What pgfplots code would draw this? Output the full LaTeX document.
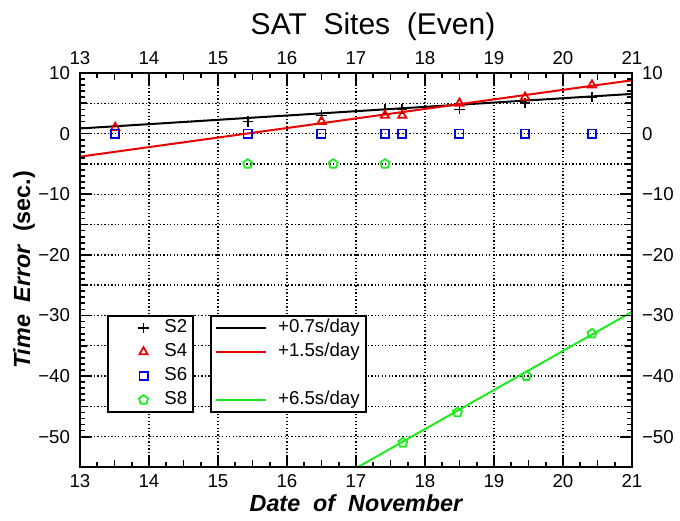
\documentclass[border=0pt]{standalone}
\usepackage{fontspec}
\setmainfont{Liberation Sans}
\usepackage{pgfplots}
\pgfplotsset{compat=1.18}
\usetikzlibrary{plotmarks}
\definecolor{cred}{RGB}{235,0,0}
\definecolor{cgreen}{RGB}{30,235,30}
\definecolor{cblue}{RGB}{0,0,220}
\pgfplotsset{base/.style={
  width=414pt, height=295.5pt, scale only axis,
  at={(0pt,0pt)}, anchor=south west,
  xmin=13, xmax=21, ymin=-55, ymax=10,
  xtick={13,14,...,21}, xticklabels={13,14,15,16,17,18,19,20,21},
  ytick={-50,-40,...,10},
  yticklabels={−50,−40,−30,−20,−10,0,10},
  minor x tick num=3, minor y tick num=9,
  extra x ticks={13.5,14.5,...,20.5}, extra x tick labels={},
  extra y ticks={-45,-35,-25,-15,-5,5}, extra y tick labels={},
  tick align=inside,
  major tick length=9pt, minor tick length=3.5pt,
  every tick/.style={line width=1.3pt, black},
  axis line style={line width=2.2pt},
  tick label style={font=\fontsize{14}{16}\selectfont},
  yticklabel style={xshift=-4pt},
  major grid style={black, line width=1pt, dash pattern=on 1pt off 1.6pt},
  legend style={draw=black, line width=1.4pt, fill=white,
    font=\fontsize{14}{16}\selectfont, row sep=3pt, inner ysep=1.5pt,
    nodes={inner ysep=0pt, inner xsep=2pt, text height=11pt, text depth=4pt},
    anchor=north west},
}}
\begin{document}
\begin{tikzpicture}
\useasboundingbox (-60pt,-39.75pt) rectangle (450pt,350.25pt);
% axis 1: grid, fit lines, line legend
\begin{axis}[base,
  grid=major,
  xticklabel style={yshift=-2pt},
  extra x tick style={grid=none, major tick length=5.5pt},
  extra y tick style={grid=major, major tick length=5.5pt},
  xlabel={\fontsize{17.5}{20}\selectfont\bfseries\itshape Date\ \ of\ \ November},
  xlabel style={at={(axis description cs:0.5,0)}, anchor=center, yshift=-27pt},
  ylabel={\fontsize{17.5}{20}\selectfont\bfseries\itshape Time\ \ Error\ \ \upshape(sec.)},
  ylabel style={at={(axis description cs:0,0.5)}, anchor=center, yshift=42pt},
  legend style={at={(axis description cs:0.2355,0.3858)}, inner xsep=3pt},
  legend image code/.code={\draw[#1, line width=1.3pt] (0pt,0pt) -- (37.5pt,0pt); \path (44pt,0pt);},
]
\addplot[black, line width=1.5pt] coordinates {(13,0.85) (21,6.55)};
\addlegendentry{+0.7s/day}
\addplot[cred, line width=1.5pt] coordinates {(13,-3.8) (21,8.8)};
\addlegendentry{+1.5s/day}
\addlegendimage{empty legend}
\addlegendentry{}
\addplot[cgreen, line width=1.5pt] coordinates {(17.03,-55) (21,-29.4)};
\addlegendentry{+6.5s/day}
\end{axis}
% axis 2: markers, top/right labels, marker legend, title
\begin{axis}[base,
  xticklabel pos=upper, yticklabel pos=right,
  yticklabel style={xshift=8pt},
  xticklabel style={yshift=3pt},
  extra x tick style={major tick length=5.5pt},
  extra y tick style={major tick length=5.5pt},
  title={\fontsize{22.5}{26}\selectfont SAT\ \ Sites\ \ (Even)},
  title style={at={(axis description cs:0.5,1)}, anchor=center, yshift=29pt, xshift=12.75pt},
  legend style={at={(axis description cs:0.0489,0.3858)}, inner xsep=2pt},
  legend image code/.code={\path (0pt,0pt) (37pt,0pt); \draw[#1] plot coordinates {(24pt,0pt)};},
  every axis plot/.append style={only marks, mark options={line width=1.3pt, solid}},
]
\addplot[black, mark=+, mark size=3.8pt] coordinates {
(15.43,2) (16.50,3) (17.42,4) (17.67,4) (18.50,4) (19.45,5) (20.42,6)};
\addlegendentry{S2}
\addplot[cred, mark=triangle, mark size=3.6pt] coordinates {
(13.51,1) (16.50,2) (17.42,3) (17.67,3) (18.50,5) (19.45,6) (20.42,8)};
\addlegendentry{S4}
\addplot[cblue, mark=square, mark size=3.1pt] coordinates {
(13.51,0) (15.43,0) (16.50,0) (17.42,0) (17.67,0) (18.50,0) (19.45,0) (20.42,0)};
\addlegendentry{S6}
\addplot[cgreen, mark=pentagon, mark size=3.6pt] coordinates {
(15.43,-5) (16.67,-5) (17.42,-5) (17.68,-51) (18.47,-46) (19.47,-40) (20.42,-33)};
\addlegendentry{S8}
\end{axis}
\end{tikzpicture}
\end{document}
